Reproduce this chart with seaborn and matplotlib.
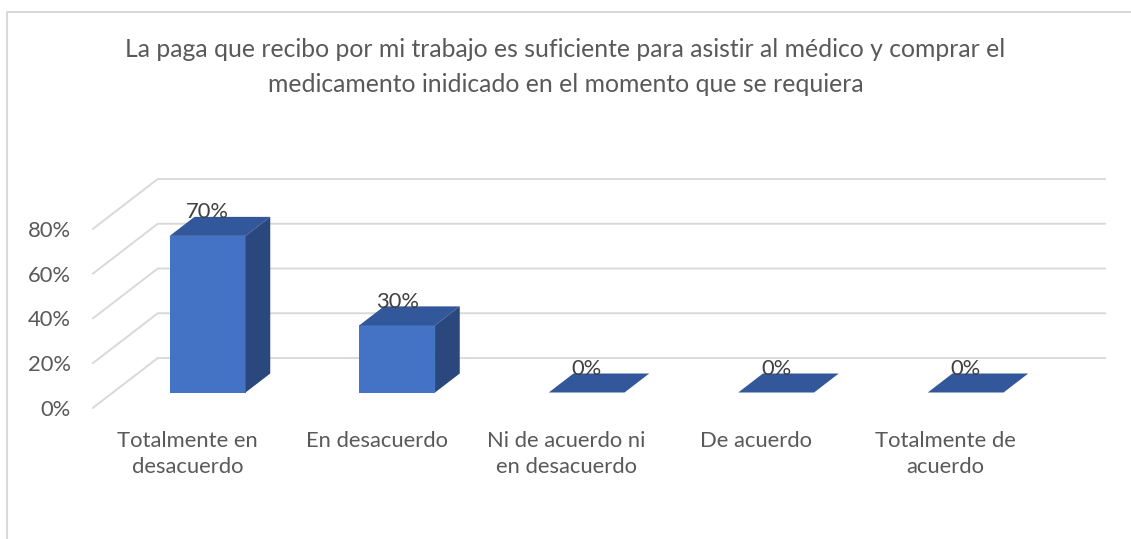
import matplotlib
matplotlib.use("Agg")
import matplotlib.pyplot as plt
from matplotlib.patches import Polygon
from matplotlib.lines import Line2D
from matplotlib.ticker import PercentFormatter
import seaborn as sns
import pandas as pd

# --- data ---
categories = ["Totalmente en\ndesacuerdo", "En desacuerdo", "Ni de acuerdo ni\nen desacuerdo",
              "De acuerdo", "Totalmente de\nacuerdo"]
values = [70, 30, 0, 0, 0]
y_ticks = [0, 20, 40, 60, 80]
title = ("La paga que recibo por mi trabajo es suficiente para asistir al médico y comprar el\n"
         "medicamento inidicado en el momento que se requiera")

# --- style ---
sns.set_theme(style="white")
plt.rcParams["font.family"] = ["Lato", "DejaVu Sans"]
TEXT = "#595959"
GRID = "#D9D9D9"
FRONT = "#4472C4"
TOP = "#32579A"
SIDE = "#2A487E"
FS = 15.8

W, H = 1131, 539
# front plane of the plot in pixels
X0, X1 = 92.75, 1040.25
Y0, Y1 = 408, 229
DEPTH = (65, 50)          # px offset to the back wall
BAR_FRONT = 0.31          # bar front face depth fraction
BAR_DEPTH = 0.38          # bar thickness fraction

fig = plt.figure(figsize=(W / 100, H / 100), dpi=100)
rect = [X0 / W, 1 - Y0 / H, (X1 - X0) / W, (Y0 - Y1) / H]
ax = fig.add_axes(rect)
n = len(categories)
ax.set_xlim(-0.5, n - 0.5)
ax.set_ylim(0, 80)
px_x = (X1 - X0) / n
px_y = (Y0 - Y1) / 80

# gridlines: floor diagonal then back wall
dxf, dyf = DEPTH[0] / px_x, DEPTH[1] / px_y
for t in y_ticks:
    ax.add_line(Line2D([-0.5, -0.5 + dxf, n - 0.5 + dxf], [t, t + dyf, t + dyf],
                       color=GRID, lw=1.4, clip_on=False, zorder=0))

ax.set_yticks(y_ticks)
ax.yaxis.set_major_formatter(PercentFormatter(decimals=0))
ax.set_xticks(range(n))
ax.set_xticklabels(categories, linespacing=1.4)
ax.tick_params(axis="y", length=0, pad=16, labelsize=FS, labelcolor=TEXT)
ax.tick_params(axis="x", length=0, pad=16.5, labelsize=FS, labelcolor=TEXT)
for s in ax.spines.values():
    s.set_visible(False)
ax.patch.set_alpha(0)

# bars drawn on an axes shifted to the bar's front-face depth
off_x, off_y = DEPTH[0] * BAR_FRONT, DEPTH[1] * BAR_FRONT
axb = fig.add_axes([(X0 + off_x) / W, 1 - (Y0 - off_y) / H, (X1 - X0) / W, (Y0 - Y1) / H])
df = pd.DataFrame({"cat": categories, "val": values})
sns.barplot(data=df, x="cat", y="val", ax=axb, color=FRONT, saturation=1, width=0.4,
            edgecolor="none", errorbar=None)
axb.set_xlim(-0.5, n - 0.5)
axb.set_ylim(0, 80)
axb.axis("off")

dx, dy = DEPTH[0] * BAR_DEPTH / px_x, DEPTH[1] * BAR_DEPTH / px_y
for p, v in zip(axb.patches, values):
    x0, w, h = p.get_x(), p.get_width(), p.get_height()
    axb.add_patch(Polygon([(x0, h), (x0 + w, h), (x0 + w + dx, h + dy), (x0 + dx, h + dy)],
                          closed=True, fc=TOP, ec="none", clip_on=False))
    if h > 0:
        axb.add_patch(Polygon([(x0 + w, 0), (x0 + w, h), (x0 + w + dx, h + dy), (x0 + w + dx, dy)],
                              closed=True, fc=SIDE, ec="none", clip_on=False))
    axb.annotate(f"{v}%", (x0 + w / 2, h + dy), xytext=(0, -4), textcoords="offset points",
                 ha="center", va="bottom", fontsize=FS, color="#404040", annotation_clip=False)

fig.text(0.5, 1 - 67 / H, title, ha="center", va="center", fontsize=17.8, color=TEXT,
         linespacing=1.6)

# chart frame (left and top edges)
fig.add_artist(Line2D([7 / W, 7 / W, 1], [0, 1 - 12 / H, 1 - 12 / H], transform=fig.transFigure,
                      color=GRID, lw=1.5))

fig.savefig("out.png", dpi=100, facecolor="white")
